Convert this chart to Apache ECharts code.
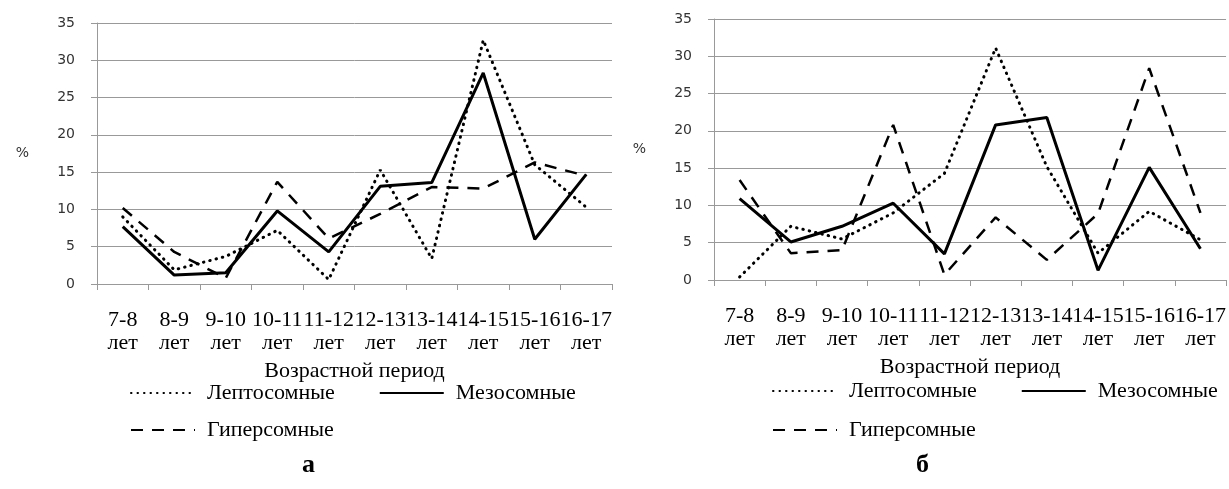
<!DOCTYPE html>
<html>
<head>
<meta charset="utf-8">
<script src="https://cdn.jsdelivr.net/npm/echarts@6/dist/echarts.min.js"></script>
<style>
  html, body { margin: 0; padding: 0; background: #fff; }
  #chart { width: 1229px; height: 489px; }
</style>
</head>
<body>
<div id="chart"></div>
<script>
// категории (возрастные периоды)
const categories = ['7-8\nлет', '8-9\nлет', '9-10\nлет', '10-11\nлет', '11-12\nлет',
  '12-13\nлет', '13-14\nлет', '14-15\nлет', '15-16\nлет', '16-17\nлет']
const yTicks = [0, 5, 10, 15, 20, 25, 30, 35]

// панель а
const leptoA = [9.0, 1.9, 3.7, 7.2, 0.6, 15.3, 3.4, 32.7, 16.0, 10.3]
const mesoA = [7.7, 1.2, 1.5, 9.8, 4.3, 13.1, 13.6, 28.3, 6.0, 14.7]
const hyperA = [10.2, 4.3, 0.8, 13.7, 6.1, 9.4, 13.0, 12.8, 16.3, 14.5]

// панель б
const leptoB = [0.4, 7.2, 5.5, 9.0, 14.3, 31.1, 15.2, 3.6, 9.2, 5.4]
const mesoB = [10.9, 5.1, 7.2, 10.3, 3.5, 20.8, 21.8, 1.3, 15.1, 4.2]
const hyperB = [13.4, 3.6, 4.0, 20.8, 0.7, 8.4, 2.7, 8.9, 28.4, 9.0]

const names = ['Лептосомные', 'Мезосомные', 'Гиперсомные']
const serif = 'Liberation Serif'
const gridColor = '#999'

const lineStyles = [
  { color: '#000', width: 3, type: [0.5, 6], cap: 'round' }, // точки
  { color: '#000', width: 3, type: 'solid' },
  { color: '#000', width: 2.5, type: [12, 9] }, // штрих
]

function xAxisOf(gridIndex) {
  return {
    type: 'category',
    gridIndex: gridIndex,
    data: categories,
    boundaryGap: true,
    name: 'Возрастной период',
    nameLocation: 'middle',
    nameGap: 72,
    nameTextStyle: { fontFamily: serif, fontSize: 22, color: '#000' },
    axisLine: { lineStyle: { color: gridColor, width: 1 } },
    axisTick: { show: true, length: 6, lineStyle: { color: gridColor } },
    axisLabel: {
      interval: 0,
      margin: 25,
      fontFamily: serif,
      fontSize: 22,
      lineHeight: 23,
      color: '#000',
    },
  }
}

function yAxisOf(gridIndex) {
  return {
    type: 'value',
    gridIndex: gridIndex,
    min: yTicks[0],
    max: yTicks[yTicks.length - 1],
    interval: yTicks[1] - yTicks[0],
    name: '%',
    nameLocation: 'middle',
    nameRotate: 0,
    nameGap: 68,
    nameTextStyle: { fontFamily: 'DejaVu Sans', fontSize: 14, color: '#333' },
    axisLine: { show: true, lineStyle: { color: gridColor, width: 1 } },
    axisTick: { show: true, length: 6, lineStyle: { color: gridColor } },
    splitLine: { show: true, lineStyle: { color: gridColor, width: 1 } },
    axisLabel: { margin: 22, fontFamily: 'DejaVu Sans', fontSize: 14, color: '#333' },
  }
}

function seriesOf(idx, data) {
  return data.map((d, i) => ({
    name: names[i],
    type: 'line',
    xAxisIndex: idx,
    yAxisIndex: idx,
    symbol: 'none',
    animation: false,
    lineStyle: lineStyles[i],
    itemStyle: { color: '#000' },
    data: d,
  }))
}

function legendOf(data, left, top) {
  return {
    data: data,
    left: left,
    top: top,
    padding: 0,
    itemWidth: 64,
    itemHeight: 14,
    itemGap: 44,
    selectedMode: false,
    itemStyle: { opacity: 0 }, // только линия, без маркера
    textStyle: { fontFamily: serif, fontSize: 22, color: '#000', padding: [0, 0, 0, 7] },
  }
}

const option = {
  backgroundColor: '#fff',
  animation: false,
  title: [
    { text: 'а', left: 302, top: 452, padding: 0,
      textStyle: { fontFamily: serif, fontSize: 26, fontWeight: 'bold', color: '#000' } },
    { text: 'б', left: 916, top: 452, padding: 0,
      textStyle: { fontFamily: serif, fontSize: 26, fontWeight: 'bold', color: '#000' } },
  ],
  legend: [
    legendOf(['Лептосомные', 'Мезосомные'], 130, 382),
    legendOf(['Гиперсомные'], 130, 419),
    legendOf(['Лептосомные', 'Мезосомные'], 772, 380),
    legendOf(['Гиперсомные'], 772, 419),
  ],
  grid: [
    { left: 97, top: 23, width: 515, height: 261 },
    { left: 714, top: 19, width: 514, height: 261 },
  ],
  xAxis: [xAxisOf(0), xAxisOf(1)],
  yAxis: [yAxisOf(0), yAxisOf(1)],
  series: [].concat(
    seriesOf(0, [leptoA, mesoA, hyperA]),
    seriesOf(1, [leptoB, mesoB, hyperB])
  ),
}

const myChart = echarts.init(document.getElementById('chart'))
myChart.setOption(option)
</script>
</body>
</html>
